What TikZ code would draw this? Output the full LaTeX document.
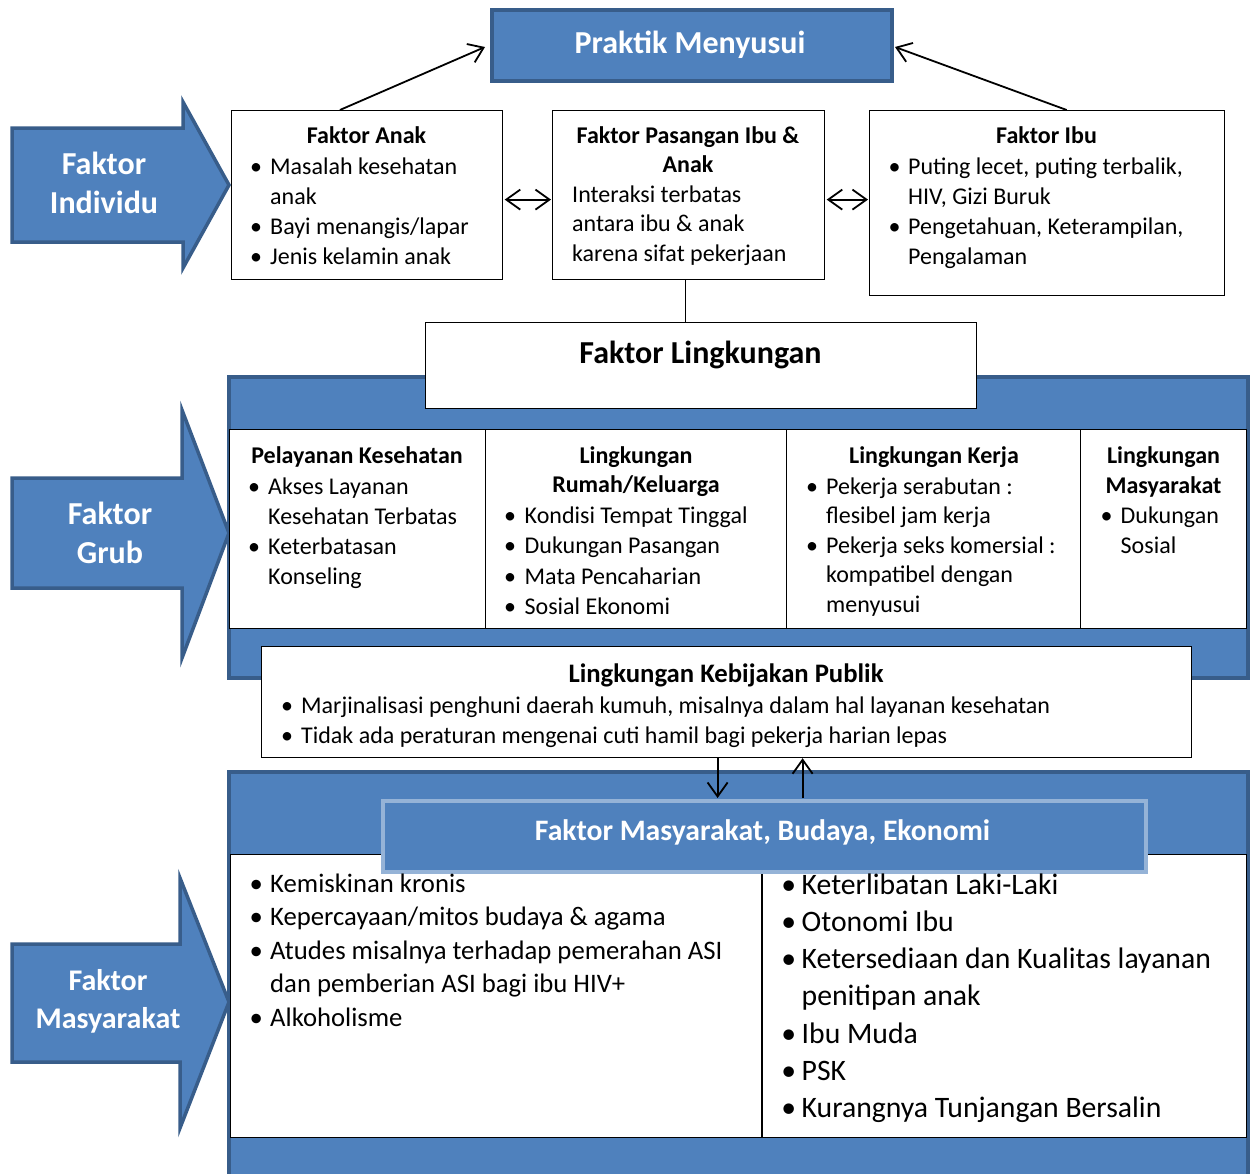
\documentclass[tikz,border=0pt]{standalone}
\usepackage{fontspec}
\setmainfont{Carlito}
\usetikzlibrary{arrows.meta,calc}
\definecolor{bfill}{HTML}{4F81BD}
\definecolor{bdark}{HTML}{385D8A}
\definecolor{blight}{HTML}{95B3D7}
\newcommand\fs[2]{\fontsize{#1}{#2}\selectfont}
\newcommand\bul[1]{\makebox[#1][l]{\hspace{4pt}\makebox[0pt][c]{\textbullet}}}
\newcommand\ind[1]{\hspace*{#1}}
\begin{document}
\begin{tikzpicture}[x=1pt,y=-1pt,
  wbox/.style={draw=black, line width=1.2pt, fill=white, inner sep=0pt, anchor=north west},
  bbox/.style={draw=bdark, line width=4pt, fill=bfill, inner sep=0pt, anchor=north west},
  bpanel/.style={draw=bdark, line width=3.5pt, fill=bfill},
  txt/.style={inner sep=0pt, align=left, text=black, anchor=north west},
  ttl/.style={inner sep=0pt, align=center, text=black},
  wtxt/.style={inner sep=0pt, align=center, text=white},
  conn/.style={line width=1.8pt, -{Straight Barb[length=14pt,width=20pt]}},
  dconn/.style={line width=1.8pt, {Straight Barb[length=14pt,width=20pt]}-{Straight Barb[length=14pt,width=20pt]}},
]
\useasboundingbox (0,0) rectangle (1253,1173);
\fill[white] (0,0) rectangle (1253,1173);

% ---------- left fat arrows ----------
\draw[bpanel, line join=miter] (12,128) -- (183,128) -- (183,102) -- (229,185) -- (183,268) -- (183,242) -- (12,242) -- cycle;
\draw[bpanel, line join=miter] (12,478) -- (182,478) -- (182,410) -- (229,533) -- (182,658) -- (182,588) -- (12,588) -- cycle;
\draw[bpanel, line join=miter] (12,944) -- (180,944) -- (180,878) -- (229,1002) -- (180,1128) -- (180,1062) -- (12,1062) -- cycle;
\node[wtxt, font=\fs{32}{39}\bfseries, anchor=north] (indT) at (104,146) {\rule{0pt}{28pt}Faktor\\Individu};
\node[wtxt, font=\fs{32}{39}\bfseries, anchor=north] (grubT) at (110,496) {\rule{0pt}{28pt}Faktor\\Grub};
\node[wtxt, font=\fs{30}{38}\bfseries, anchor=north] (masT) at (108,963) {\rule{0pt}{27pt}Faktor\\Masyarakat};

% ---------- top ----------
\node[bbox, minimum width=400, minimum height=71] (praktik) at (490,8) {};
\node[wtxt, font=\fs{32}{39}\bfseries, anchor=base] (praktikT) at (690,53) {Praktik Menyusui};

\node[wbox, minimum width=271, minimum height=169] (anak) at (231,110) {};
\node[wbox, minimum width=272, minimum height=169] (pas) at (552,110) {};
\node[wbox, minimum width=355, minimum height=185] (ibu) at (869,110) {};

\node[ttl, font=\fs{24}{30}\bfseries, anchor=base] (anakT) at (366.5,143) {Faktor Anak};
\node[txt, font=\fs{24}{30}] (anakL) at (252,152) {\rule{0pt}{22pt}\bul{18pt}Masalah kesehatan\\\ind{18pt}anak\\\bul{18pt}Bayi menangis/lapar\\\bul{18pt}Jenis kelamin anak};

\node[ttl, font=\fs{24}{29}\bfseries, anchor=north] (pasT) at (688,121) {\rule{0pt}{22pt}Faktor Pasangan Ibu \&\\Anak};
\node[txt, font=\fs{24}{29.5}] (pasL) at (572,180) {\rule{0pt}{22pt}Interaksi terbatas\\antara ibu \& anak\\karena sifat pekerjaan};

\node[ttl, font=\fs{24}{30}\bfseries, anchor=base] (ibuT) at (1046.5,143) {Faktor Ibu};
\node[txt, font=\fs{24}{30}] (ibuL) at (890.5,152) {\rule{0pt}{22pt}\bul{17.5pt}Puting lecet, puting terbalik,\\\ind{17.5pt}HIV, Gizi Buruk\\\bul{17.5pt}Pengetahuan, Keterampilan,\\\ind{17.5pt}Pengalaman};

\draw[conn] ($(anak.north west)!0.40!(anak.north east)$) -- ([xshift=-5pt,yshift=-1.5pt]praktik.west);
\draw[conn] ($(ibu.north west)!0.555!(ibu.north east)$) -- ([xshift=1pt,yshift=-1.5pt]praktik.east);
\draw[dconn, shorten <=1.5pt, shorten >=1pt] ([yshift=-4.5pt]anak.east) -- ([yshift=-4.5pt]anak.east -| pas.west);
\draw[dconn, shorten <=1.5pt, shorten >=1pt] ([yshift=-4.5pt]pas.east) -- ([yshift=-4.5pt]pas.east -| ibu.west);

% ---------- environment panel ----------
\draw[bpanel] (229,377) rectangle (1248,678);
\node[wbox, minimum width=256, minimum height=199] (c1) at (229,429) {};
\node[wbox, minimum width=301, minimum height=199] (c2) at (485,429) {};
\node[wbox, minimum width=294, minimum height=199] (c3) at (786,429) {};
\node[wbox, minimum width=166, minimum height=199] (c4) at (1080,429) {};

\node[wbox, minimum width=551, minimum height=86] (ling) at (425,322) {};
\node[ttl, font=\fs{32}{39}\bfseries, anchor=base] (lingT) at (700.5,363) {Faktor Lingkungan};
\draw[line width=1.2pt] (pas.south -| 685.5,0) -- (ling.north -| 685.5,0);

\node[ttl, font=\fs{24}{30}\bfseries, anchor=base] (c1T) at (357,463) {Pelayanan Kesehatan};
\node[txt, font=\fs{24}{30}] (c1L) at (250,472) {\rule{0pt}{22pt}\bul{18pt}Akses Layanan\\\ind{18pt}Kesehatan Terbatas\\\bul{18pt}Keterbatasan\\\ind{18pt}Konseling};

\node[ttl, font=\fs{24}{29}\bfseries, anchor=north] (c2T) at (636,441) {\rule{0pt}{22pt}Lingkungan\\Rumah/Keluarga};
\node[txt, font=\fs{24}{30.5}] (c2L) at (506,501) {\rule{0pt}{22pt}\bul{18.5pt}Kondisi Tempat Tinggal\\\bul{18.5pt}Dukungan Pasangan\\\bul{18.5pt}Mata Pencaharian\\\bul{18.5pt}Sosial Ekonomi};

\node[ttl, font=\fs{24}{30}\bfseries, anchor=base] (c3T) at (934,463) {Lingkungan Kerja};
\node[txt, font=\fs{24}{29.5}] (c3L) at (808,472) {\rule{0pt}{22pt}\bul{18pt}Pekerja serabutan :\\\ind{18pt}flesibel jam kerja\\\bul{18pt}Pekerja seks komersial :\\\ind{18pt}kompatibel dengan\\\ind{18pt}menyusui};

\node[ttl, font=\fs{24}{30}\bfseries, anchor=north] (c4T) at (1163.5,441) {\rule{0pt}{22pt}Lingkungan\\Masyarakat};
\node[txt, font=\fs{24}{30}] (c4L) at (1102.5,501) {\rule{0pt}{22pt}\bul{18pt}Dukungan\\\ind{18pt}Sosial};

% ---------- public policy ----------
\node[wbox, minimum width=930, minimum height=111] (keb) at (261,646) {};
\node[ttl, font=\fs{26.7}{30}\bfseries, anchor=base] (kebT) at (726,682.5) {Lingkungan Kebijakan Publik};
\node[txt, font=\fs{24}{30}] (kebL) at (283,691) {\rule{0pt}{22pt}\bul{18pt}Marjinalisasi penghuni daerah kumuh, misalnya dalam hal layanan kesehatan\\\bul{18pt}Tidak ada peraturan mengenai cuti hamil bagi pekerja harian lepas};

% ---------- community panel ----------
\draw[bpanel] (229,772) rectangle (1248,1185);
\node[wbox, minimum width=1016, minimum height=283] (mas) at (230,854) {};
\draw[line width=1.2pt] (mas.north -| 762,0) -- (mas.south -| 762,0);
\node[draw=blight, line width=4pt, fill=bfill, inner sep=0pt, anchor=north west, minimum width=763, minimum height=71] (hdr) at (381,799) {};
\node[wtxt, font=\fs{29.7}{34}\bfseries, anchor=base] (hdrT) at (762.5,840.5) {Faktor Masyarakat, Budaya, Ekonomi};

\draw[conn, shorten >=1pt] ([xshift=-9pt]keb.south) -- ([xshift=-9pt]keb.south |- hdr.north);
\draw[conn, shorten <=1pt] ([xshift=76pt]keb.south |- hdr.north) -- ([xshift=76pt]keb.south);

\node[txt, font=\fs{26.7}{33.5}] (masL) at (252,867) {\rule{0pt}{25pt}\bul{18pt}Kemiskinan kronis\\\bul{18pt}Kepercayaan/mitos budaya \& agama\\\bul{18pt}Atudes misalnya terhadap pemerahan ASI\\\ind{18pt}dan pemberian ASI bagi ibu HIV+\\\bul{18pt}Alkoholisme};
\node[txt, font=\fs{29.7}{37.2}] (masR) at (784.5,867) {\rule{0pt}{27pt}\bul{17pt}Keterlibatan Laki-Laki\\\bul{17pt}Otonomi Ibu\\\bul{17pt}Ketersediaan dan Kualitas layanan\\\ind{17pt}penitipan anak\\\bul{17pt}Ibu Muda\\\bul{17pt}PSK\\\bul{17pt}Kurangnya Tunjangan Bersalin};
\end{tikzpicture}
\end{document}
